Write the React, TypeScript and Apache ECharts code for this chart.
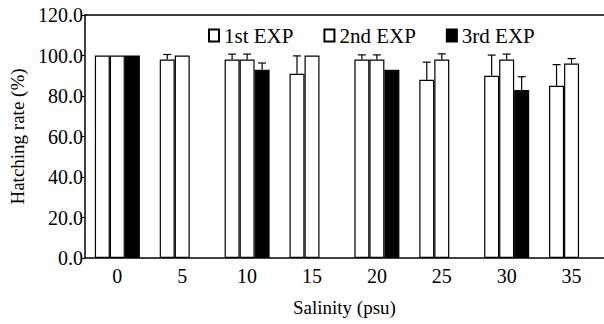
import React, { useEffect, useRef } from "react";
import * as echarts from "echarts";

const categories = ["0", "5", "10", "15", "20", "25", "30", "35"];
const seriesNames = ["1st EXP", "2nd EXP", "3rd EXP"];
const exp1 = [100, 98, 98, 91, 98, 88, 90, 85];
const exp1Err = [0, 2.5, 2.7, 8.8, 2.3, 8.7, 10.2, 10.5];
const exp2 = [100, 100, 98, 100, 98, 98, 98, 96];
const exp2Err = [0, 0, 2.7, 0, 2.3, 2.8, 2.7, 2.5];
const exp3 = [100, null, 93, null, 93, null, 83, null];
const exp3Err = [0, null, 3.3, null, 0, null, 6.5, null];
const yTicks = [0, 20, 40, 60, 80, 100, 120];

const FONT = "Liberation Serif";
const BAR_W = 15;

export default function App() {
  const ref = useRef<HTMLDivElement>(null);
  useEffect(() => {
    if (!ref.current) return;
    const chart = echarts.init(ref.current, null, { renderer: "svg" });
    const values = [exp1, exp2, exp3];
    const errs = [exp1Err, exp2Err, exp3Err];
    const fills = ["#fff", "#fff", "#000"];
    const barSeries = values.map((v, i) => ({
      name: seriesNames[i],
      type: "bar",
      data: v,
      barWidth: BAR_W,
      barGap: "0%",
      itemStyle: { color: fills[i], borderColor: "#000", borderWidth: 1.2 },
      z: 2,
    }));
    const errSeries = values.map((v, i) => ({
      type: "custom",
      z: 3,
      silent: true,
      encode: { x: 0, y: 1 },
      data: v
        .map((val, k) => [k, val, errs[i][k]])
        .filter((d) => d[1] != null && d[2] != null && (d[2] as number) > 0),
      renderItem: (params: any, api: any) => {
        const x = api.value(0);
        const y = api.value(1);
        const e = api.value(2);
        const p0 = api.coord([x, y]);
        const p1 = api.coord([x, y + e]);
        const cx = p0[0] + (i - 1) * BAR_W;
        const cap = 4;
        const style = { stroke: "#000", lineWidth: 1.2 };
        return {
          type: "group",
          children: [
            { type: "line", shape: { x1: cx, y1: p0[1], x2: cx, y2: p1[1] }, style },
            { type: "line", shape: { x1: cx - cap, y1: p1[1], x2: cx + cap, y2: p1[1] }, style },
          ],
        };
      },
    }));
    chart.setOption({
      animation: false,
      textStyle: { fontFamily: FONT, color: "#000" },
      grid: { left: 83, right: -4, top: 15, bottom: 66 },
      legend: {
        data: seriesNames,
        icon: "rect",
        left: 203,
        top: 20,
        itemWidth: 10,
        itemHeight: 12,
        itemGap: 30,
        textStyle: { fontFamily: FONT, fontSize: 21, color: "#000" },
      },
      xAxis: [
        {
          type: "category",
          data: categories,
          axisLine: { lineStyle: { color: "#000", width: 1.5 } },
          axisTick: { inside: true, length: 5, lineStyle: { color: "#000" } },
          axisLabel: { fontFamily: FONT, fontSize: 20, color: "#000", margin: 8 },
          name: "Salinity (psu)",
          nameLocation: "middle",
          nameGap: 40,
          nameTextStyle: { fontFamily: FONT, fontSize: 19, color: "#000" },
        },
        {
          type: "category",
          data: categories,
          position: "top",
          axisLine: { lineStyle: { color: "#000", width: 1.5 } },
          axisTick: { show: false },
          axisLabel: { show: false },
        },
      ],
      yAxis: {
        type: "value",
        min: yTicks[0],
        max: yTicks[yTicks.length - 1],
        interval: 20,
        axisLine: { show: true, lineStyle: { color: "#000", width: 1.5 } },
        axisTick: { show: true, length: 3, lineStyle: { color: "#000" } },
        splitLine: { show: false },
        axisLabel: {
          fontFamily: FONT,
          fontSize: 20,
          color: "#000",
          margin: 2,
          formatter: (v: number) => v.toFixed(1),
        },
        name: "Hatching rate (%)",
        nameLocation: "middle",
        nameGap: 56,
        nameTextStyle: { fontFamily: FONT, fontSize: 19, color: "#000" },
      },
      series: [...barSeries, ...errSeries],
    });
    return () => chart.dispose();
  }, []);
  return (
    <div
      ref={ref}
      style={{ position: "fixed", left: 0, top: 0, width: 604, height: 324, background: "#fff" }}
    />
  );
}
